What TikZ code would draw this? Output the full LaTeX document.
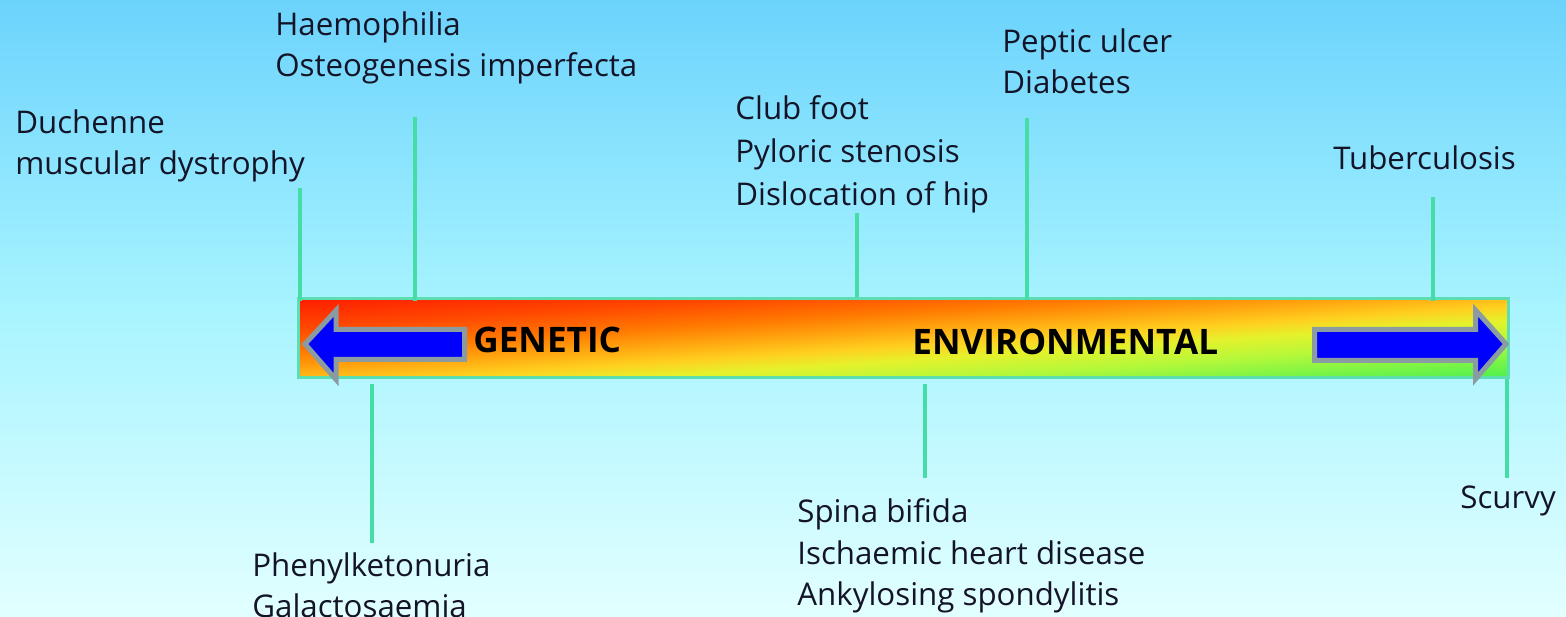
\documentclass[tikz,border=0pt]{standalone}
\usepackage{fontspec}
\setmainfont{Open Sans}
\usetikzlibrary{calc}
\definecolor{bgtop}{HTML}{6CD3FC}
\definecolor{bgmid}{HTML}{A8F4FF}
\definecolor{bgbot}{HTML}{E2FFFF}
\definecolor{sa}{HTML}{FF1E00}
\definecolor{sb}{HTML}{FF4800}
\definecolor{sc}{HTML}{FF7800}
\definecolor{sd}{HTML}{FFA810}
\definecolor{se}{HTML}{FFD020}
\definecolor{sf}{HTML}{E4F22C}
\definecolor{sg}{HTML}{B4F83A}
\definecolor{sh}{HTML}{78F446}
\definecolor{si}{HTML}{50F050}
\definecolor{barline}{HTML}{5CDDB2}
\definecolor{tickc}{HTML}{45DDA5}
\definecolor{arrgray}{HTML}{8A9CA2}
\definecolor{txt}{HTML}{141428}
\pgfdeclarehorizontalshading{barshade}{100bp}{color(0bp)=(sa); color(15bp)=(sa); color(27.6bp)=(sb); color(38bp)=(sc); color(46.5bp)=(sd); color(53.5bp)=(se); color(60bp)=(sf); color(69bp)=(sg); color(78bp)=(sh); color(85bp)=(si); color(100bp)=(si)}
\begin{document}
\begin{tikzpicture}[x=0.02cm,y=-0.02cm,
  lbl/.style={anchor=north west, inner sep=0pt, align=left, text=txt, font=\fontsize{17.8}{23.8}\selectfont},
  tick/.style={draw=tickc, line width=0.08cm},
  bigword/.style={anchor=base west, inner sep=0pt, font=\bfseries\fontsize{20}{22}\selectfont, text=black},
  arr/.style={fill=blue, draw=arrgray, line width=0.1cm, line join=miter}]
\useasboundingbox (0,0) rectangle (1566,617);
\shade[top color=bgtop, bottom color=bgbot, middle color=bgmid] (0,0) rectangle (1566,617);

% bar: diagonal gradient, shaded in a square then stretched
\shade[shading=barshade, shading angle=-45,
  transform canvas={shift={(903.5,338)}, xscale=15.1375}] (-40,-40) rectangle (40,40);
\node[draw=barline, line width=0.06cm,
      minimum width=24.22cm, minimum height=1.6cm, inner sep=0pt] (bar) at (903.5,338) {};

% arrows
\draw[arr] (305,344) -- (336,310.5) -- (336,329.5) -- (464.5,329.5) -- (464.5,359.5)
  -- (336,359.5) -- (336,379.5) -- cycle;
\draw[arr] (1506,344) -- (1475.5,310) -- (1475.5,329.5) -- (1314.5,329.5) -- (1314.5,360.5)
  -- (1475.5,360.5) -- (1475.5,379) -- cycle;

\node[bigword] (gen) at (473,353) {GENETIC};
\node[bigword] (env) at (912,355) {ENVIRONMENTAL};

% labels
\node[lbl] (duch) at (15,109) {Duchenne\\muscular dystrophy};
\node[lbl] (haem) at (275,11) {Haemophilia\\Osteogenesis imperfecta};
\node[lbl, font=\fontsize{17.8}{24.4}\selectfont] (club) at (735,95) {Club foot\\Pyloric stenosis\\Dislocation of hip};
\node[lbl] (pept) at (1002,28) {Peptic ulcer\\Diabetes};
\node[lbl] (tube) at (1333,145) {Tuberculosis};
\node[lbl] (phen) at (252,552) {Phenylketonuria\\Galactosaemia};
\node[lbl] (spin) at (797,498) {Spina bifida\\Ischaemic heart disease\\Ankylosing spondylitis};
\node[lbl] (scur) at (1460,486) {Scurvy};

% connectors
\coordinate (duchT) at (300,188);
\coordinate (haemT) at (415,117);
\coordinate (clubT) at (857,213);
\coordinate (peptT) at (1027,118);
\coordinate (tubeT) at (1433,197);
\coordinate (phenB) at (372,543);
\coordinate (spinB) at (925,478);
\coordinate (scurB) at (1507,478);
\draw[tick] (duchT) -- ($(duchT |- bar.north)+(0,4)$);
\draw[tick] (haemT) -- ($(haemT |- bar.north)+(0,4)$);
\draw[tick] (clubT) -- ($(clubT |- bar.north)+(0,0)$);
\draw[tick] (peptT) -- ($(peptT |- bar.north)+(0,3)$);
\draw[tick] (tubeT) -- ($(tubeT |- bar.north)+(0,4)$);
\draw[tick] (phenB) -- ($(phenB |- bar.south)+(0,5)$);
\draw[tick] (spinB) -- ($(spinB |- bar.south)+(0,5)$);
\draw[tick] (scurB) -- (scurB |- bar.south);
\end{tikzpicture}
\end{document}
